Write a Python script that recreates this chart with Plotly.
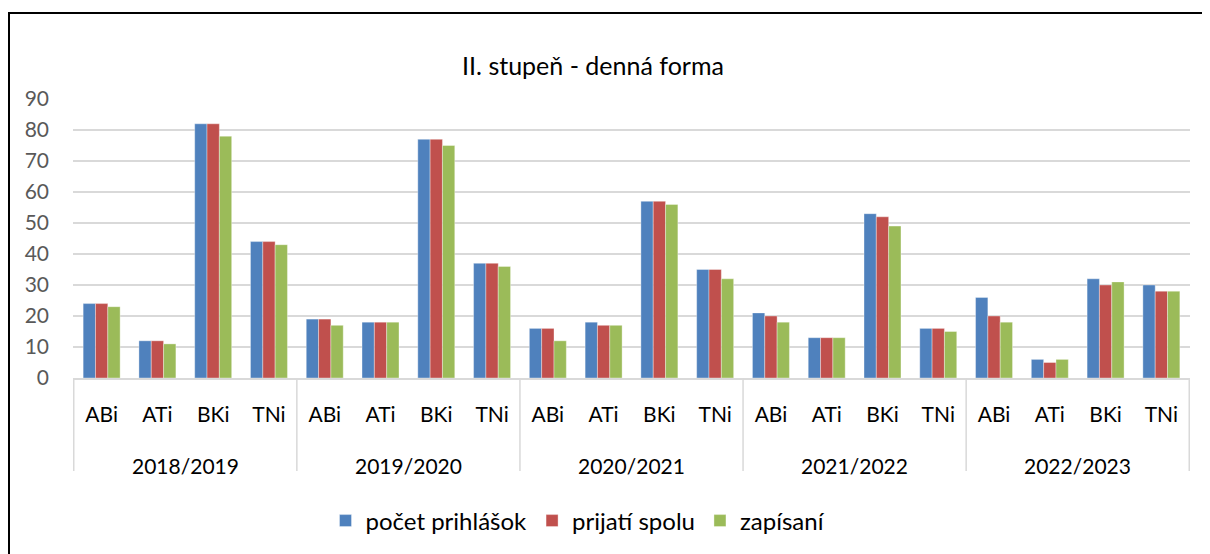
import plotly.graph_objects as go

years = ["2018/2019", "2019/2020", "2020/2021", "2021/2022", "2022/2023"]
programs = ["ABi", "ATi", "BKi", "TNi"]
series_names = ["počet prihlášok", "prijatí spolu", "zapísaní"]
prihlasky = [24, 12, 82, 44, 19, 18, 77, 37, 16, 18, 57, 35, 21, 13, 53, 16, 26, 6, 32, 30]
prijati = [24, 12, 82, 44, 19, 18, 77, 37, 16, 17, 57, 35, 20, 13, 52, 16, 20, 5, 30, 28]
zapisani = [23, 11, 78, 43, 17, 18, 75, 36, 12, 17, 56, 32, 18, 13, 49, 15, 18, 6, 31, 28]
y_ticks = [0, 10, 20, 30, 40, 50, 60, 70, 80, 90]

colors = ["#4F81BD", "#C0504D", "#9BBB59"]
FONT = "Lato"

# unique category keys (year + program); shown with program tick labels
cats = [f"{y} {p}" for y in years for p in programs]
cat_labels = [p for _ in years for p in programs]
n_per = len(programs)

fig = go.Figure()
for name, vals, col in zip(series_names, [prihlasky, prijati, zapisani], colors):
    fig.add_trace(go.Bar(
        x=cats, y=vals, name=name,
        marker=dict(color=col, line=dict(color="rgba(255,255,255,0.6)", width=0.6)),
    ))

# page has an 8px body margin; screen coords are converted to figure coords
OFF = 8
W, H = 1210, 554
L, R, T, B = 65, 28, 91, 184
pw, ph = W - L - R, H - T - B

def px_x(s):
    return (s - OFF - L) / pw

def px_y(s):
    return (H - B - (s - OFF)) / ph

shapes = [dict(type="rect", xref="paper", yref="paper",
               x0=px_x(9), x1=px_x(1240), y0=px_y(600), y1=px_y(13),
               line=dict(color="#000000", width=2), fillcolor="rgba(0,0,0,0)", layer="above")]
for i in range(len(years) + 1):
    xb = i * n_per - 0.5
    shapes.append(dict(type="line", xref="x", yref="paper", x0=xb, x1=xb,
                       y0=px_y(378), y1=px_y(471),
                       line=dict(color="#D9D9D9", width=1.5)))

annotations = []
for i, yr in enumerate(years):
    annotations.append(dict(text=yr, xref="x", yref="paper", x=i * n_per + (n_per - 1) / 2,
                            y=px_y(465), xanchor="center", yanchor="middle", showarrow=False,
                            font=dict(family=FONT, size=21, color="#000000")))

fig.update_layout(
    width=W, height=H,
    margin=dict(l=L, r=R, t=T, b=B),
    paper_bgcolor="white", plot_bgcolor="white",
    barmode="group", bargap=0.337, bargroupgap=0,
    font=dict(family=FONT, color="#000000"),
    title=dict(text="II. stupeň - denná forma", x=(593 - OFF) / W, xanchor="center",
               y=1 - (66 - OFF) / H, yanchor="middle",
               font=dict(family=FONT, size=25, color="#000000")),
    legend=dict(orientation="h", x=px_x(578), xanchor="center", y=px_y(521), yanchor="middle",
                font=dict(family=FONT, size=24, color="#000000"),
                itemwidth=30, traceorder="normal"),
    showlegend=True,
    xaxis=dict(type="category", categoryorder="array", categoryarray=cats,
               tickvals=cats, ticktext=cat_labels, automargin=False,
               showgrid=False, showline=True, linecolor="#D9D9D9",
               linewidth=1.5, ticks="", ticklabelstandoff=17,
               tickfont=dict(family=FONT, size=21, color="#000000")),
    yaxis=dict(range=[0, 90], tickvals=y_ticks, showgrid=True, gridcolor="#D9D9D9",
               gridwidth=1.5, zeroline=False, showline=False, ticks="", automargin=False,
               tickfont=dict(family=FONT, size=21, color="#595959"), ticklabelstandoff=23),
    shapes=shapes,
    annotations=annotations,
)

fig.write_html("out.html")
